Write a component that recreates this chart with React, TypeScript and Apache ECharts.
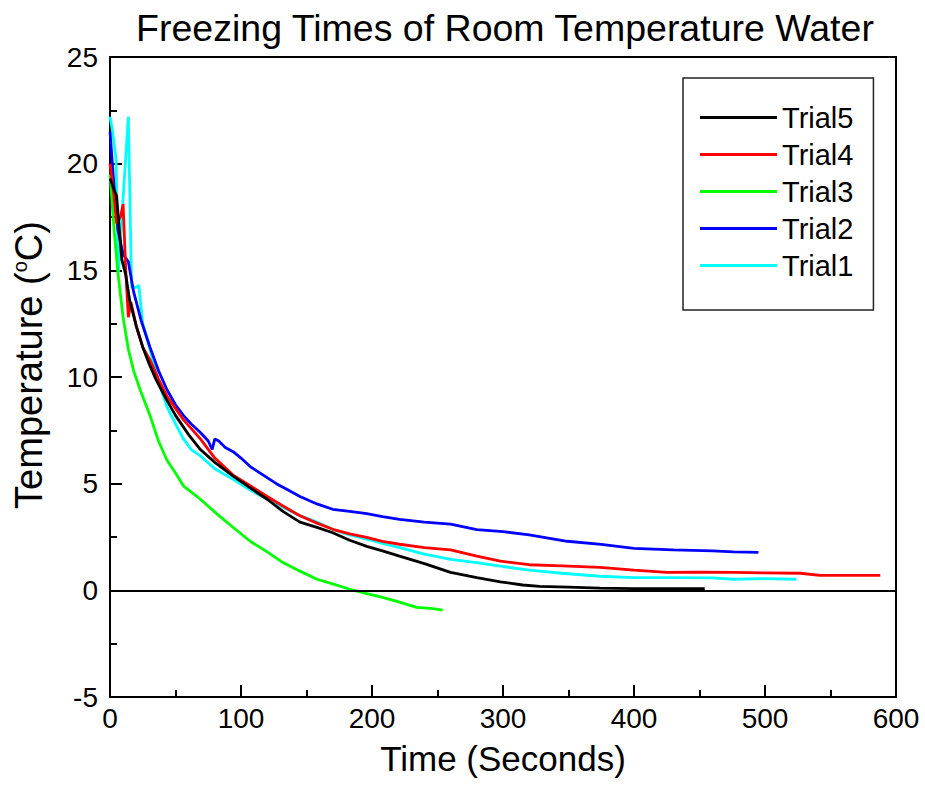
import React, { useEffect, useRef } from "react";
import * as echarts from "echarts";

const trial5X = [0, 3, 5, 7, 9, 12, 15, 20, 25, 30, 35, 43, 50, 60, 69, 80, 94, 107, 120, 132, 145, 158, 170, 183, 196, 208, 221, 240, 260, 280, 298, 315, 328, 350, 374, 400, 430, 454];
const trial5Y = [19.3, 18.8, 18.5, 17.0, 15.5, 14.8, 13.6, 12.4, 11.4, 10.6, 9.9, 8.95, 8.2, 7.3, 6.6, 6.0, 5.35, 4.8, 4.27, 3.7, 3.2, 2.95, 2.7, 2.35, 2.06, 1.85, 1.6, 1.25, 0.84, 0.6, 0.4, 0.25, 0.19, 0.15, 0.1, 0.08, 0.08, 0.08];

const trial4X = [0, 3, 5, 8, 10, 12, 14, 16, 20, 25, 30.5, 37, 43.5, 56, 69, 80, 94, 107, 120, 132, 145, 158, 170, 183, 196, 208, 221, 240, 260, 280, 298, 320, 345, 374, 400, 425, 450, 476, 500, 527, 542, 560, 588];
const trial4Y = [20.0, 18.5, 17.2, 17.5, 18.1, 15.0, 12.8, 13.5, 12.4, 11.4, 10.8, 9.9, 9.1, 8.0, 7.1, 6.2, 5.4, 4.9, 4.4, 3.95, 3.5, 3.15, 2.86, 2.65, 2.48, 2.3, 2.16, 2.0, 1.9, 1.6, 1.37, 1.2, 1.15, 1.08, 0.95, 0.84, 0.85, 0.84, 0.82, 0.8, 0.7, 0.7, 0.7];

const trial3X = [0, 3, 6, 10, 14, 18, 23, 30.5, 37, 43.5, 50, 56, 69, 82, 95, 107, 120, 132, 145, 158, 170, 183, 196, 208, 221, 234, 245, 254];
const trial3Y = [19.5, 17.0, 14.9, 12.8, 11.3, 10.3, 9.4, 8.2, 7.0, 6.1, 5.5, 4.9, 4.27, 3.56, 2.9, 2.3, 1.8, 1.3, 0.9, 0.52, 0.3, 0.05, -0.15, -0.33, -0.55, -0.8, -0.85, -0.93];

const trial2X = [0, 3, 6, 10, 14, 18, 24, 30.5, 37, 43.5, 50, 56, 62, 69, 75, 78, 80, 83, 88, 94, 100, 107, 117, 127, 136, 145, 158, 170, 183, 196, 208, 221, 240, 260, 280, 300, 320, 349, 375, 400, 430, 460, 476, 495];
const trial2Y = [21.5, 19.0, 16.9, 15.75, 15.4, 14.0, 12.6, 11.4, 10.3, 9.4, 8.7, 8.2, 7.8, 7.4, 7.0, 6.6, 7.1, 7.0, 6.7, 6.5, 6.2, 5.8, 5.4, 5.0, 4.7, 4.4, 4.05, 3.8, 3.7, 3.6, 3.45, 3.33, 3.2, 3.1, 2.85, 2.75, 2.6, 2.3, 2.15, 1.97, 1.9, 1.85, 1.8, 1.78];

const trial1X = [0, 2, 4.6, 6.4, 14, 16.5, 20, 22, 25, 30.5, 37, 43.5, 50, 56, 62, 69, 80, 94, 107, 120, 132, 145, 158, 170, 183, 196, 208, 221, 240, 260, 280, 298, 320, 345, 374, 400, 430, 460, 476, 500, 524];
const trial1Y = [22.2, 21.5, 20.2, 14.9, 22.2, 14.2, 14.2, 14.3, 12.5, 11.3, 9.8, 8.6, 7.8, 7.1, 6.6, 6.3, 5.7, 5.2, 4.7, 4.27, 3.9, 3.5, 3.2, 2.86, 2.6, 2.4, 2.2, 2.0, 1.7, 1.45, 1.3, 1.13, 0.95, 0.8, 0.66, 0.6, 0.6, 0.58, 0.52, 0.55, 0.52];

const seriesNames = ["Trial5", "Trial4", "Trial3", "Trial2", "Trial1"];
const seriesColors = ["#000000", "#ff0000", "#00ff00", "#0000ff", "#00ffff"];
const seriesXs = [trial5X, trial4X, trial3X, trial2X, trial1X];
const seriesYs = [trial5Y, trial4Y, trial3Y, trial2Y, trial1Y];

const FONT = "'Liberation Sans', Arial, Helvetica, sans-serif";

export default function App() {
  const ref = useRef<HTMLDivElement>(null);
  useEffect(() => {
    document.body.style.margin = "0";
    if (!ref.current) return;
    const chart = echarts.init(ref.current, undefined, { renderer: "svg" });
    const series: any[] = seriesNames.map((name, i) => ({
      name,
      type: "line",
      data: seriesXs[i].map((x, j) => [x, seriesYs[i][j]]),
      showSymbol: false,
      symbol: "none",
      lineStyle: { color: seriesColors[i], width: 2.8 },
      itemStyle: { color: seriesColors[i] },
      z: 2 + (4 - i),
    }));
    series[0].markLine = {
      silent: true,
      symbol: "none",
      label: { show: false },
      lineStyle: { color: "#000", width: 2, type: "solid" },
      data: [{ yAxis: 0 }],
    };
    const tickCommon = {
      axisLine: { show: true, onZero: false, lineStyle: { color: "#000", width: 2 } },
      axisTick: { show: true, inside: true, length: 12, lineStyle: { color: "#000", width: 2 } },
      minorTick: { show: true, splitNumber: 2, length: 7, lineStyle: { color: "#000", width: 2 } },
      splitLine: { show: false },
    };
    chart.setOption({
      animation: false,
      textStyle: { fontFamily: FONT, color: "#000" },
      title: {
        text: "Freezing Times of Room Temperature Water",
        left: 500,
        textAlign: "center",
        top: 4,
        textStyle: { fontFamily: FONT, fontSize: 37.5, fontWeight: "normal", color: "#000" },
      },
      grid: {
        left: 110,
        right: 29,
        top: 57,
        bottom: 90,
        show: true,
        borderColor: "#000",
        borderWidth: 2,
        backgroundColor: "transparent",
      },
      legend: {
        orient: "vertical",
        left: 683,
        top: 78,
        icon: "rect",
        itemWidth: 77,
        itemHeight: 3,
        itemGap: 8,
        padding: [25, 20, 30, 17],
        borderColor: "#222",
        borderWidth: 1.5,
        backgroundColor: "#fff",
        textStyle: { fontFamily: FONT, fontSize: 29, color: "#000" },
        data: seriesNames,
      },
      xAxis: {
        type: "value",
        min: 0,
        max: 600,
        interval: 100,
        name: "Time (Seconds)",
        nameLocation: "middle",
        nameGap: 44,
        nameTextStyle: { fontFamily: FONT, fontSize: 35, color: "#000" },
        axisLabel: { fontFamily: FONT, fontSize: 28, color: "#000", margin: 7 },
        ...tickCommon,
      },
      yAxis: {
        type: "value",
        min: -5,
        max: 25,
        interval: 5,
        name: "Temperature ({sup|o}C)",
        nameLocation: "middle",
        nameGap: 62,
        nameRotate: 90,
        nameTextStyle: {
          fontFamily: FONT,
          fontSize: 38,
          color: "#000",
          padding: [0, 0, 0, 24],
          rich: {
            sup: { fontFamily: FONT, fontSize: 20, color: "#000", padding: [0, 0, 18, 0] },
          },
        },
        axisLabel: { fontFamily: FONT, fontSize: 28, color: "#000", margin: 12 },
        ...tickCommon,
      },
      series,
    });
    return () => chart.dispose();
  }, []);
  return <div ref={ref} style={{ width: 925, height: 787 }} />;
}
